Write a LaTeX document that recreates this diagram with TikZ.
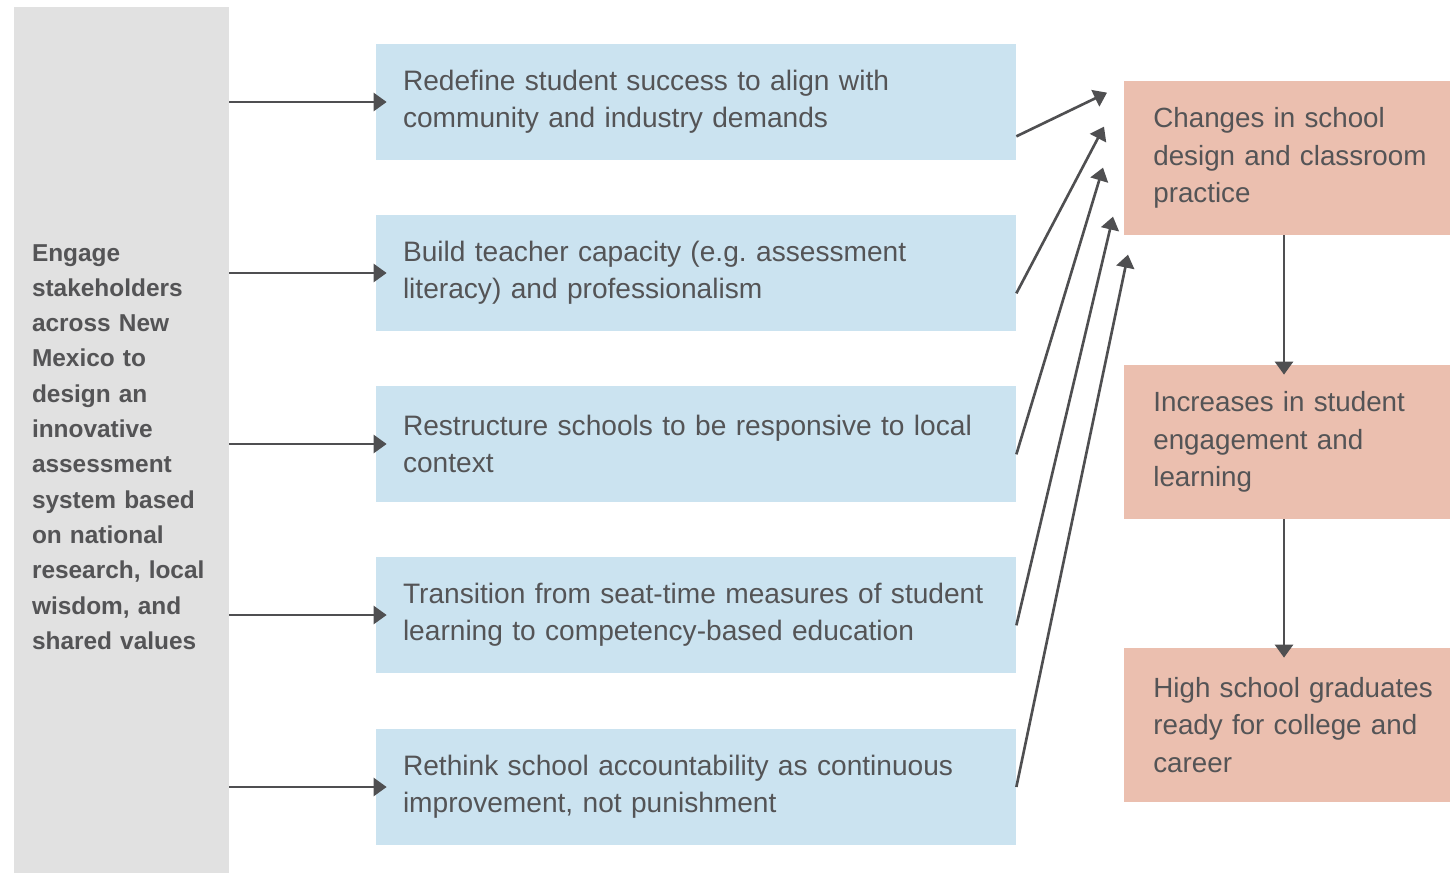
\documentclass[tikz,border=0pt]{standalone}
\usepackage{fontspec}
\setmainfont{Liberation Sans}
\usetikzlibrary{arrows.meta,positioning}
\definecolor{goalgray}{HTML}{E1E1E1}
\definecolor{leverblue}{HTML}{CBE3F0}
\definecolor{outpink}{HTML}{EBBFAF}
\definecolor{inkgray}{HTML}{545456}
\definecolor{arrowgray}{HTML}{4F4F51}
\frenchspacing

\begin{document}
\begin{tikzpicture}[
  goal/.style={fill=goalgray, text=inkgray, text width=3.58cm, inner xsep=0.36cm, minimum height=17.6cm, align=left, font=\fontsize{13.9}{20.1}\selectfont\bfseries},
  lever/.style={fill=leverblue, text=inkgray, text width=11.72cm, inner xsep=0.54cm, minimum height=2.32cm, align=left, font=\fontsize{16}{21}\selectfont},
  outcome/.style={fill=outpink, text=inkgray, text width=6.3cm, inner xsep=0.58cm, minimum height=3.08cm, align=left, anchor=west, font=\fontsize{15.8}{21.2}\selectfont},
  link/.style={draw=arrowgray, line width=1.5pt, -{Triangle[length=0.26cm, width=0.36cm]}}]

\useasboundingbox (0,0) rectangle (29,-17.46);

% Objetivo (coluna cinza)
\node[goal] (engage) at (2.43,-8.94) {Engage\\stakeholders\\across New\\Mexico to\\design an\\innovative\\assessment\\system based\\on national\\research, local\\wisdom, and\\shared values};

% Alavancas (caixas azuis)
\node[lever] (b1) at (13.92, -2.04) {Redefine student success to align with\\community and industry demands};
\node[lever] (b2) at (13.92, -5.46) {Build teacher capacity (e.g. assessment\\literacy) and professionalism};
\node[lever] (b3) at (13.92, -8.88) {Restructure schools to be responsive to local\\context};
\node[lever] (b4) at (13.92,-12.30) {Transition from seat-time measures of student\\learning to competency-based education};
\node[lever] (b5) at (13.92,-15.74) {Rethink school accountability as continuous\\improvement, not punishment};

% Resultados (caixas rosa)
\node[outcome] (c1) at (22.48, -3.16) {Changes in school\\design and classroom\\practice};
\node[outcome] (c2) at (22.48, -8.84) {Increases in student\\engagement and\\learning};
\node[outcome] (c3) at (22.48,-14.50) {High school graduates\\ready for college and\\career};

% Pontas das setas diagonais
\coordinate (t1) at ([shift={(-0.34,-0.24)}]c1.north west);
\coordinate (t2) at ([shift={(-0.40,-0.92)}]c1.north west);
\coordinate (t3) at ([shift={(-0.42,-1.74)}]c1.north west);
\coordinate (t4) at ([shift={(-0.22,-2.72)}]c1.north west);
\coordinate (t5) at ([shift={( 0.08,-3.48)}]c1.north west);

% Setas do objetivo para as alavancas
\foreach \b in {b1,b2,b3,b4,b5}
  \draw[link, shorten >=-0.22cm] (engage.east |- \b.west) -- (\b.west);

% Setas das alavancas para o primeiro resultado
\draw[link] ([yshift=0.48cm]b1.south east) -- (t1);
\draw[link] ([yshift=0.76cm]b2.south east) -- (t2);
\draw[link] ([yshift=0.96cm]b3.south east) -- (t3);
\draw[link] ([yshift=0.96cm]b4.south east) -- (t4);
\draw[link] (b5.east) -- (t5);

% Setas entre resultados
\draw[link, shorten >=-0.2cm] ([xshift=3.2cm]c1.south west) -- ([xshift=3.2cm]c2.north west);
\draw[link, shorten >=-0.2cm] ([xshift=3.2cm]c2.south west) -- ([xshift=3.2cm]c3.north west);

\end{tikzpicture}
\end{document}
